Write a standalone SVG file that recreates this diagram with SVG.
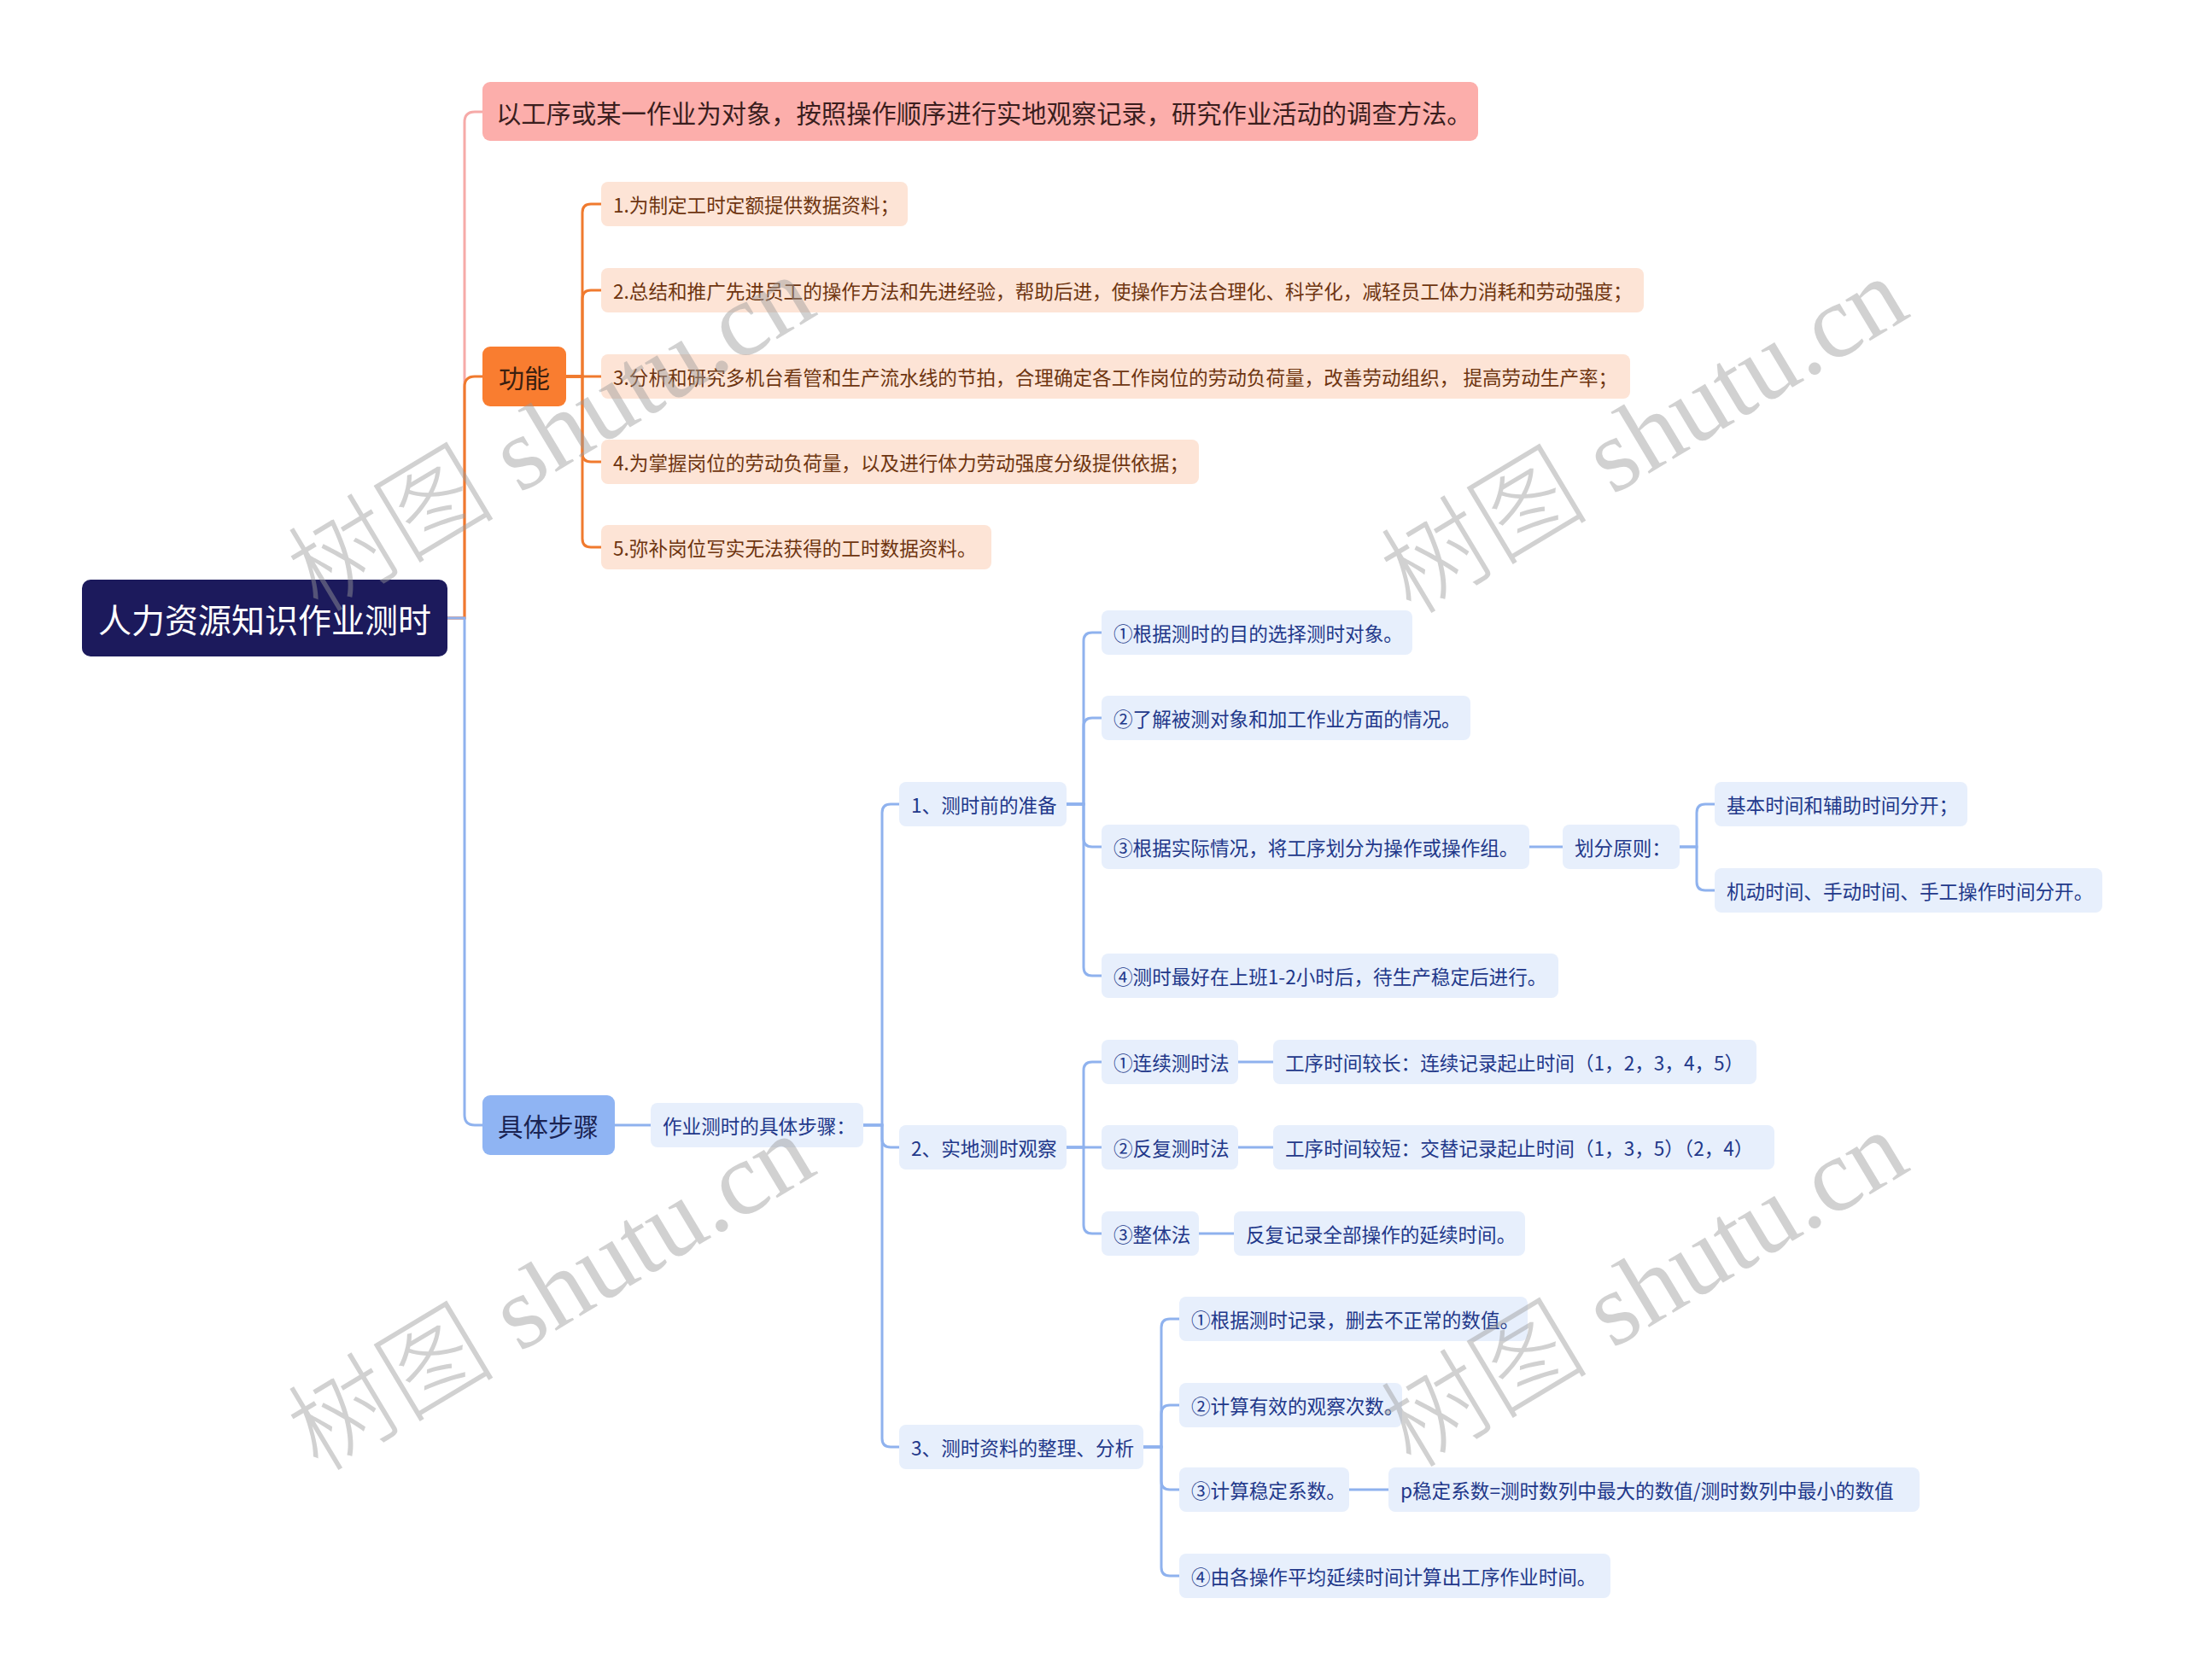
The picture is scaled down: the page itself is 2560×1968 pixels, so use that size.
<svg xmlns="http://www.w3.org/2000/svg" width="2560" height="1968" viewBox="0 0 2560 1968">
<style>
text{font-family:"Noto Sans CJK SC","Noto Sans",sans-serif;dominant-baseline:central}
.c{fill:none;stroke-width:3;stroke-linecap:round}
.cp{stroke:#f6aaa8}
.co{stroke:#f07a2e}
.cb{stroke:#8fb2ee}
.n-o rect{fill:#fde4d6}
.n-o text{fill:#6e3510;font-size:22.6px}
.n-b rect{fill:#e7effc}
.n-b text{fill:#22388a;font-size:22.6px}
.wm{font-family:"Liberation Serif","Noto Sans CJK SC",serif;font-size:122px;font-weight:300;fill:#9a9a9a;opacity:0.45;text-anchor:middle}
</style>
<rect width="2560" height="1968" fill="#ffffff"/>
<g id="connectors">
<path class="c cp" d="M524,724 H544 V143 Q544,131 556,131 H565"/>
<path class="c co" d="M524,724 H544 V453 Q544,441 556,441 H565"/>
<path class="c cb" d="M524,724 H544 V1306 Q544,1318 556,1318 H565"/>
<path class="c co" d="M663,441 H682 V249 Q682,239 692,239 H704"/>
<path class="c co" d="M663,441 H682 V350 Q682,340 692,340 H704"/>
<path class="c co" d="M663,441 H704"/>
<path class="c co" d="M663,441 H682 V531 Q682,541 692,541 H704"/>
<path class="c co" d="M663,441 H682 V631 Q682,641 692,641 H704"/>
<path class="c cb" d="M720,1318 H762"/>
<path class="c cb" d="M1011,1318 H1033 V952 Q1033,942 1043,942 H1053"/>
<path class="c cb" d="M1011,1318 H1033 V1334 Q1033,1344 1043,1344 H1053"/>
<path class="c cb" d="M1011,1318 H1033 V1685 Q1033,1695 1043,1695 H1053"/>
<path class="c cb" d="M1249,942 H1269 V751 Q1269,741 1279,741 H1290"/>
<path class="c cb" d="M1249,942 H1269 V851 Q1269,841 1279,841 H1290"/>
<path class="c cb" d="M1249,942 H1269 V982 Q1269,992 1279,992 H1290"/>
<path class="c cb" d="M1249,942 H1269 V1133 Q1269,1143 1279,1143 H1290"/>
<path class="c cb" d="M1791,992 H1830"/>
<path class="c cb" d="M1967,992 H1987 V952 Q1987,942 1997,942 H2008"/>
<path class="c cb" d="M1967,992 H1987 V1033 Q1987,1043 1997,1043 H2008"/>
<path class="c cb" d="M1249,1344 H1269 V1254 Q1269,1244 1279,1244 H1290"/>
<path class="c cb" d="M1249,1344 H1290"/>
<path class="c cb" d="M1249,1344 H1269 V1435 Q1269,1445 1279,1445 H1290"/>
<path class="c cb" d="M1450,1244 H1491"/>
<path class="c cb" d="M1450,1344 H1491"/>
<path class="c cb" d="M1404,1445 H1445"/>
<path class="c cb" d="M1339,1695 H1360 V1555 Q1360,1545 1370,1545 H1381"/>
<path class="c cb" d="M1339,1695 H1360 V1656 Q1360,1646 1370,1646 H1381"/>
<path class="c cb" d="M1339,1695 H1360 V1735 Q1360,1745 1370,1745 H1381"/>
<path class="c cb" d="M1339,1695 H1360 V1836 Q1360,1846 1370,1846 H1381"/>
<path class="c cb" d="M1580,1745 H1626"/>
</g>
<g id="root"><rect x="96" y="679" width="428" height="90" rx="10" fill="#1c1a5c"/><text x="310" y="724" font-size="39" fill="#ffffff" text-anchor="middle">人力资源知识作业测时</text></g>
<g id="definition"><rect x="565" y="96" width="1166" height="69" rx="9" fill="#fcaeab"/><text x="581" y="131" font-size="29.3" fill="#3a1e1e">以工序或某一作业为对象，按照操作顺序进行实地观察记录，研究作业活动的调查方法。</text></g>
<g id="gongneng"><rect x="565" y="406" width="98" height="70" rx="9" fill="#f97d30"/><text x="614" y="441" font-size="30" fill="#3a2010" text-anchor="middle">功能</text></g>
<g id="buzhou"><rect x="565" y="1283" width="155" height="70" rx="9" fill="#8fb4f3"/><text x="642" y="1318" font-size="29.5" fill="#1a2352" text-anchor="middle">具体步骤</text></g>
<g id="f1" class="n-o"><rect x="704" y="213" width="359" height="52" rx="8"/><text x="718" y="239">1.为制定工时定额提供数据资料；</text></g>
<g id="f2" class="n-o"><rect x="704" y="314" width="1221" height="52" rx="8"/><text x="718" y="340">2.总结和推广先进员工的操作方法和先进经验，帮助后进，使操作方法合理化、科学化，减轻员工体力消耗和劳动强度；</text></g>
<g id="f3" class="n-o"><rect x="704" y="415" width="1205" height="52" rx="8"/><text x="718" y="441">3.分析和研究多机台看管和生产流水线的节拍，合理确定各工作岗位的劳动负荷量，改善劳动组织， 提高劳动生产率；</text></g>
<g id="f4" class="n-o"><rect x="704" y="515" width="700" height="52" rx="8"/><text x="718" y="541">4.为掌握岗位的劳动负荷量，以及进行体力劳动强度分级提供依据；</text></g>
<g id="f5" class="n-o"><rect x="704" y="615" width="457" height="52" rx="8"/><text x="718" y="641">5.弥补岗位写实无法获得的工时数据资料。</text></g>
<g id="s0" class="n-b"><rect x="762" y="1292" width="249" height="52" rx="8"/><text x="776" y="1318">作业测时的具体步骤：</text></g>
<g id="s1" class="n-b"><rect x="1053" y="916" width="196" height="52" rx="8"/><text x="1067" y="942">1、测时前的准备</text></g>
<g id="s2" class="n-b"><rect x="1053" y="1318" width="196" height="52" rx="8"/><text x="1067" y="1344">2、实地测时观察</text></g>
<g id="s3" class="n-b"><rect x="1053" y="1669" width="286" height="52" rx="8"/><text x="1067" y="1695">3、测时资料的整理、分析</text></g>
<g id="s1a" class="n-b"><rect x="1290" y="715" width="364" height="52" rx="8"/><text x="1304" y="741">①根据测时的目的选择测时对象。</text></g>
<g id="s1b" class="n-b"><rect x="1290" y="815" width="432" height="52" rx="8"/><text x="1304" y="841">②了解被测对象和加工作业方面的情况。</text></g>
<g id="s1c" class="n-b"><rect x="1290" y="966" width="501" height="52" rx="8"/><text x="1304" y="992">③根据实际情况，将工序划分为操作或操作组。</text></g>
<g id="s1d" class="n-b"><rect x="1290" y="1117" width="535" height="52" rx="8"/><text x="1304" y="1143">④测时最好在上班1-2小时后，待生产稳定后进行。</text></g>
<g id="s1c1" class="n-b"><rect x="1830" y="966" width="137" height="52" rx="8"/><text x="1844" y="992">划分原则：</text></g>
<g id="s1c1a" class="n-b"><rect x="2008" y="916" width="296" height="52" rx="8"/><text x="2022" y="942">基本时间和辅助时间分开；</text></g>
<g id="s1c1b" class="n-b"><rect x="2008" y="1017" width="454" height="52" rx="8"/><text x="2022" y="1043">机动时间、手动时间、手工操作时间分开。</text></g>
<g id="s2a" class="n-b"><rect x="1290" y="1218" width="160" height="52" rx="8"/><text x="1304" y="1244">①连续测时法</text></g>
<g id="s2a1" class="n-b"><rect x="1491" y="1218" width="566" height="52" rx="8"/><text x="1505" y="1244">工序时间较长：连续记录起止时间（1，2，3，4，5）</text></g>
<g id="s2b" class="n-b"><rect x="1290" y="1318" width="160" height="52" rx="8"/><text x="1304" y="1344">②反复测时法</text></g>
<g id="s2b1" class="n-b"><rect x="1491" y="1318" width="587" height="52" rx="8"/><text x="1505" y="1344">工序时间较短：交替记录起止时间（1，3，5）（2，4）</text></g>
<g id="s2c" class="n-b"><rect x="1290" y="1419" width="114" height="52" rx="8"/><text x="1304" y="1445">③整体法</text></g>
<g id="s2c1" class="n-b"><rect x="1445" y="1419" width="341" height="52" rx="8"/><text x="1459" y="1445">反复记录全部操作的延续时间。</text></g>
<g id="s3a" class="n-b"><rect x="1381" y="1519" width="408" height="52" rx="8"/><text x="1395" y="1545">①根据测时记录，删去不正常的数值。</text></g>
<g id="s3b" class="n-b"><rect x="1381" y="1620" width="261" height="52" rx="8"/><text x="1395" y="1646">②计算有效的观察次数。</text></g>
<g id="s3c" class="n-b"><rect x="1381" y="1719" width="199" height="52" rx="8"/><text x="1395" y="1745">③计算稳定系数。</text></g>
<g id="s3c1" class="n-b"><rect x="1626" y="1719" width="622" height="52" rx="8"/><text x="1640" y="1745">p稳定系数=测时数列中最大的数值/测时数列中最小的数值</text></g>
<g id="s3d" class="n-b"><rect x="1381" y="1820" width="505" height="52" rx="8"/><text x="1395" y="1846">④由各操作平均延续时间计算出工序作业时间。</text></g>
<g id="watermarks">
<text class="wm" transform="translate(645,508) rotate(-31)">树图 shutu.cn</text>
<text class="wm" transform="translate(1925,510) rotate(-31)">树图 shutu.cn</text>
<text class="wm" transform="translate(645,1514) rotate(-31)">树图 shutu.cn</text>
<text class="wm" transform="translate(1925,1510) rotate(-31)">树图 shutu.cn</text>
</g>
</svg>
